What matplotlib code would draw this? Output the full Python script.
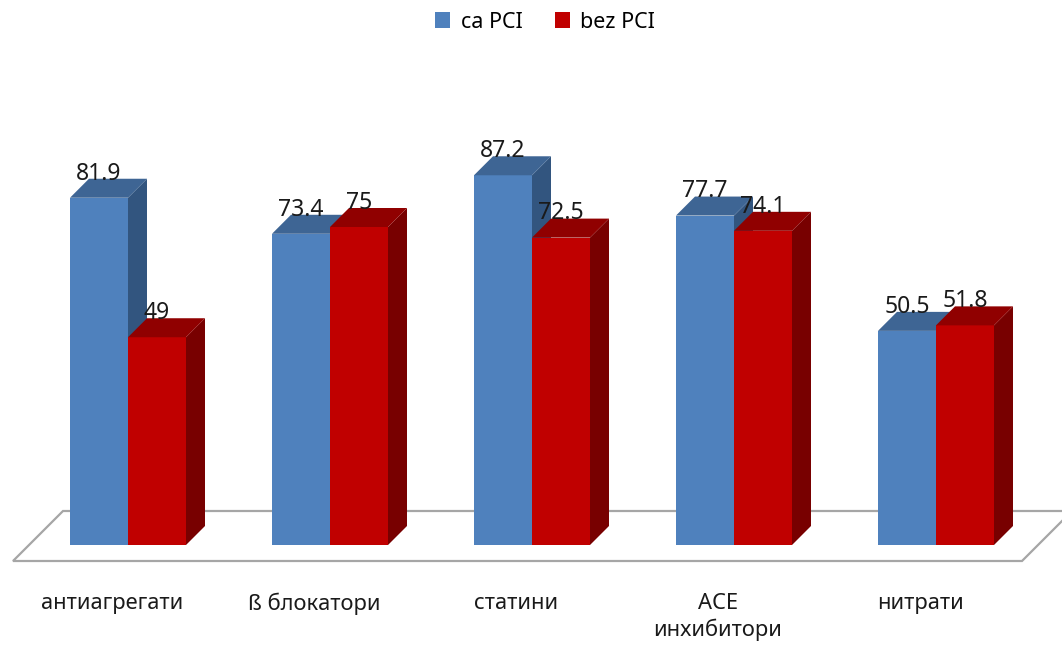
import matplotlib
matplotlib.use("Agg")
import matplotlib.pyplot as plt
from matplotlib.patches import Polygon, Patch

plt.rcParams['font.family'] = ['Noto Sans', 'DejaVu Sans']

categories = ["антиагрегати", "ß блокатори", "статини", "ACE\nинхибитори", "нитрати"]
series_names = ["ca PCI", "bez PCI"]
ca_pci = [81.9, 73.4, 87.2, 77.7, 50.5]
bez_pci = [49, 75, 72.5, 74.1, 51.8]

W, H = 1062, 647
fig = plt.figure(figsize=(W / 100, H / 100), dpi=100)
ax = fig.add_axes([0, 0, 1, 1])
ax.set_axis_off()

# pixel mapping: category i centre at px 128 + 202*i ; value 0 at py 545, 4.24 px/unit
PX_CAT, PX0, PY0, PPU = 202.0, 128.0, 545.0, 4.24
ax.set_xlim(-PX0 / PX_CAT, (W - PX0) / PX_CAT)
ax.set_ylim((PY0 - H) / PPU, PY0 / PPU)

bw = 58 / PX_CAT
ddx, ddy = 19 / PX_CAT, 19 / PPU          # bar depth offset
fdx, fy_front, fy_back = 50 / PX_CAT, (PY0 - 561) / PPU, (PY0 - 511) / PPU
fx_left, fx_right = (13 - PX0) / PX_CAT, (1022 - PX0) / PX_CAT

# floor
floor = Polygon([(fx_left, fy_front), (fx_left + fdx, fy_back), (fx_right + fdx, fy_back),
                 (fx_right, fy_front)], closed=True, facecolor='white', edgecolor='#a6a6a6',
                lw=1.6, zorder=1)
ax.add_patch(floor)

styles = [
    dict(front='#4F81BD', top='#3E6594', side='#32557F', z=2),
    dict(front='#C00000', top='#900000', side='#780000', z=3),
]
xs = list(range(len(categories)))
for si, (vals, st) in enumerate(zip([ca_pci, bez_pci], styles)):
    lefts = [x - bw + si * bw for x in xs]
    ax.bar(lefts, vals, width=bw, align='edge', color=st['front'], zorder=st['z'], lw=0)
    for l, v in zip(lefts, vals):
        r = l + bw
        ax.add_patch(Polygon([(r, 0), (r + ddx, ddy), (r + ddx, v + ddy), (r, v)],
                             closed=True, facecolor=st['side'], lw=0, zorder=st['z']))
        ax.add_patch(Polygon([(l, v), (l + ddx, v + ddy), (r + ddx, v + ddy), (r, v)],
                             closed=True, facecolor=st['top'], lw=0, zorder=st['z']))
        ax.text(l + bw / 2, v + ddy - 0.2, f"{v:g}", ha='center', va='baseline',
                fontsize=16.5, color='#1a1a1a', zorder=5)

# category labels
for x, c in zip(xs, categories):
    ax.text(x - 16 / PX_CAT, (PY0 - 593) / PPU, c, ha='center', va='top', fontsize=15.8,
            color='#1a1a1a', linespacing=1.25)

handles = [Patch(facecolor=styles[0]['front'], label=series_names[0]),
           Patch(facecolor=styles[1]['front'], label=series_names[1])]
fig.legend(handles=handles, loc='center', bbox_to_anchor=(545 / W, 1 - 22 / H), ncol=2,
           frameon=False, fontsize=15.5, handlelength=0.7, handleheight=0.7,
           handletextpad=0.5, columnspacing=1.5)

fig.savefig('out.png', dpi=100)
